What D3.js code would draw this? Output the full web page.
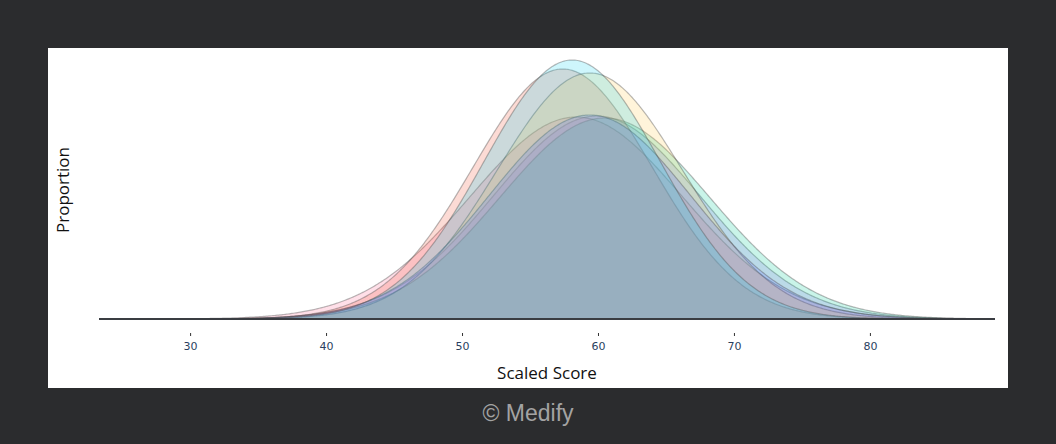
<!DOCTYPE html>
<html><head><meta charset="utf-8">
<script src="https://cdn.jsdelivr.net/npm/d3@7"></script>
<style>
html,body{margin:0;padding:0;background:#2b2c2e;}
svg{display:block;}
</style></head>
<body>
<svg id="chart" width="1056" height="444"></svg>
<script>
// Score distributions (normal curves), parameters
const groups      = ["G1","G2","G3","G4","G5","G6","G7"];
const groupColors = ["#ab63fa","#FF6692","#00cc96","#EF553B","#FECB52","#636efa","#19d3f3"];
const means       = [59.9, 58.4, 60.5, 57.4, 59.4, 59.4, 58.1];
const sds         = [7.6, 7.8, 7.7, 6.6, 6.8, 7.4, 6.5];
const peaks       = [0.203, 0.202, 0.201, 0.250, 0.246, 0.204, 0.259]; // proportion at the mode
const xTicks = [30, 40, 50, 60, 70, 80];
const xDomain = [23.3, 89.2];

const svg = d3.select("#chart");
svg.append("rect").attr("x",48).attr("y",48).attr("width",960).attr("height",340).attr("fill","#ffffff");

const x = d3.scaleLinear().domain(xDomain).range([99, 995]);
const grid = d3.range(xDomain[0], xDomain[1] + 0.001, 0.1);
const curveVal = (i, v) => peaks[i] * Math.exp(-0.5 * ((v - means[i]) / sds[i]) ** 2);
const curves = groups.map((g, i) => ({g, color: groupColors[i], pts: grid.map(v => [v, curveVal(i, v)])}));
const y = d3.scaleLinear().domain([0, d3.max(peaks)]).range([319, 60]);

const area = d3.area().x(d => x(d[0])).y0(y(0)).y1(d => y(d[1]));
const line = d3.line().x(d => x(d[0])).y(d => y(d[1]));

const g = svg.append("g");
curves.forEach(c => {
  g.append("path").attr("d", area(c.pts)).attr("fill", c.color).attr("fill-opacity", 0.21);
  g.append("path").attr("d", line(c.pts)).attr("fill", "none").attr("stroke", "#505050").attr("stroke-opacity", 0.4).attr("stroke-width", 1.2);
});

// baseline
svg.append("line").attr("x1", 99).attr("x2", 995).attr("y1", 319).attr("y2", 319).attr("stroke", "#3a3d42").attr("stroke-width", 2);

// x axis
const ax = svg.append("g").attr("transform", "translate(0,333)")
  .call(d3.axisBottom(x).tickValues(xTicks).tickSize(3).tickPadding(6));
ax.select(".domain").remove();
ax.selectAll(".tick line").attr("stroke", "#333");
ax.selectAll(".tick text").attr("fill", "#2a3f5f").style("font-family", "DejaVu Sans, sans-serif").style("font-size", "11px");

svg.append("text").attr("x", 547).attr("y", 379).attr("text-anchor", "middle")
  .style("font-family", "Open Sans, sans-serif").style("font-size", "17px").attr("fill", "#111").text("Scaled Score");
svg.append("text").attr("transform", "translate(69,190) rotate(-90)").attr("text-anchor", "middle")
  .style("font-family", "Open Sans, sans-serif").style("font-size", "17px").attr("fill", "#111").text("Proportion");

svg.append("text").attr("x", 528).attr("y", 421).attr("text-anchor", "middle")
  .style("font-family", "Liberation Sans, Arial, sans-serif").style("font-size", "23px").attr("fill", "#a3a3a3").text("© Medify");
</script>
</body></html>
